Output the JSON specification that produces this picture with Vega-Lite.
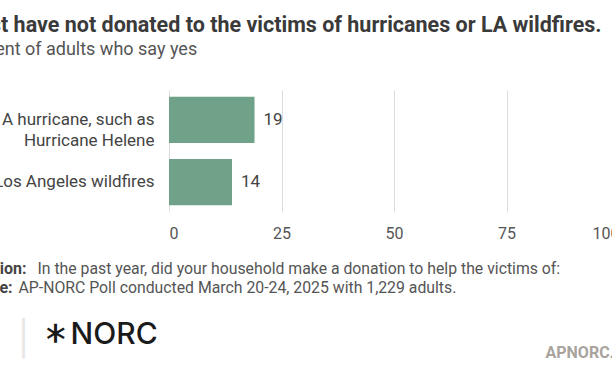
{
  "$schema": "https://vega.github.io/schema/vega-lite/v6.json",
  "autosize": "none",
  "width": 450,
  "height": 122,
  "padding": {"left": 169, "top": 90, "right": 0, "bottom": 162},
  "background": "white",
  "title": {
    "text": "Most have not donated to the victims of hurricanes or LA wildfires.",
    "subtitle": "Percent of adults who say yes",
    "anchor": "start",
    "frame": "group",
    "dx": -210,
    "offset": 31,
    "font": "Roboto",
    "fontSize": 21.5,
    "fontWeight": "bold",
    "color": "#3a3a3a",
    "subtitleFont": "Roboto",
    "subtitleFontSize": 18,
    "subtitleColor": "#555555",
    "subtitlePadding": 5
  },
  "data": {
    "values": [
      {"event": "A hurricane, such as Hurricane Helene", "value": 19},
      {"event": "Los Angeles wildfires", "value": 14}
    ]
  },
  "config": {"view": {"stroke": null}, "font": "Roboto"},
  "resolve": {"axis": {"x": "independent"}},
  "layer": [
    {
      "mark": {"type": "bar", "color": "#6fa288"},
      "encoding": {
        "y": {
          "field": "event", "type": "nominal", "sort": null,
          "scale": {"paddingInner": 0.26, "paddingOuter": 0.11},
          "axis": {
            "title": null, "domain": false, "ticks": false,
            "labelPadding": 15, "labelFontSize": 17, "labelColor": "#444444",
            "labelFont": "Roboto", "labelLineHeight": 21, "labelLimit": 400,
            "labelExpr": "datum.label == 'A hurricane, such as Hurricane Helene' ? ['A hurricane, such as', 'Hurricane Helene'] : datum.label"
          }
        },
        "x": {
          "field": "value", "type": "quantitative",
          "scale": {"domain": [0, 100]},
          "axis": {
            "orient": "bottom", "values": [0, 25, 50, 75, 100], "title": null,
            "domain": false, "ticks": false, "grid": true, "gridColor": "#dddddd",
            "labelFontSize": 16, "labelColor": "#555555", "labelPadding": 13, "labelFont": "Roboto"
          }
        }
      }
    },
    {
      "mark": {"type": "text", "align": "left", "dx": 9, "fontSize": 17, "color": "#444444", "font": "Roboto"},
      "encoding": {
        "y": {"field": "event", "type": "nominal", "sort": null},
        "x": {"field": "value", "type": "quantitative", "axis": null},
        "text": {"field": "value", "type": "quantitative"}
      }
    },
    {
      "mark": {"type": "point", "opacity": 0},
      "encoding": {
        "x": {"field": "value", "type": "quantitative", "axis": {
          "orient": "bottom", "domain": false, "ticks": false, "labels": false, "grid": false,
          "title": "Question:", "titleX": -212, "titleY": 61, "titleAlign": "left", "titleAnchor": null,
          "titleBaseline": "alphabetic", "titleFont": "Roboto", "titleFontSize": 16, "titleFontWeight": "bold", "titleColor": "#444444"}}
      }
    },
    {
      "mark": {"type": "point", "opacity": 0},
      "encoding": {
        "x": {"field": "value", "type": "quantitative", "axis": {
          "orient": "bottom", "domain": false, "ticks": false, "labels": false, "grid": false,
          "title": "In the past year, did your household make a donation to help the victims of:", "titleX": -132, "titleY": 61, "titleAlign": "left", "titleAnchor": null,
          "titleBaseline": "alphabetic", "titleFont": "Roboto", "titleFontSize": 15.8, "titleFontWeight": "normal", "titleColor": "#555555"}}
      }
    },
    {
      "mark": {"type": "point", "opacity": 0},
      "encoding": {
        "x": {"field": "value", "type": "quantitative", "axis": {
          "orient": "bottom", "domain": false, "ticks": false, "labels": false, "grid": false,
          "title": "Source:", "titleX": -212, "titleY": 80, "titleAlign": "left", "titleAnchor": null,
          "titleBaseline": "alphabetic", "titleFont": "Roboto", "titleFontSize": 16, "titleFontWeight": "bold", "titleColor": "#444444"}}
      }
    },
    {
      "mark": {"type": "point", "opacity": 0},
      "encoding": {
        "x": {"field": "value", "type": "quantitative", "axis": {
          "orient": "bottom", "domain": false, "ticks": false, "labels": false, "grid": false,
          "title": "AP-NORC Poll conducted March 20-24, 2025 with 1,229 adults.", "titleX": -151, "titleY": 80, "titleAlign": "left", "titleAnchor": null,
          "titleBaseline": "alphabetic", "titleFont": "Roboto", "titleFontSize": 15.8, "titleFontWeight": "normal", "titleColor": "#555555"}}
      }
    },
    {
      "mark": {"type": "point", "opacity": 0},
      "encoding": {
        "x": {"field": "value", "type": "quantitative", "axis": {
          "orient": "bottom", "domain": false, "ticks": false, "labels": false, "grid": false,
          "title": "│", "titleX": -146, "titleY": 127, "titleAlign": "center", "titleAnchor": null,
          "titleBaseline": "middle", "titleFont": "DejaVu Sans", "titleFontSize": 34, "titleFontWeight": "normal", "titleColor": "#e6e6e6"}}
      }
    },
    {
      "mark": {"type": "point", "opacity": 0},
      "encoding": {
        "x": {"field": "value", "type": "quantitative", "axis": {
          "orient": "bottom", "domain": false, "ticks": false, "labels": false, "grid": false,
          "title": "⚹", "titleX": -113, "titleY": 120, "titleAlign": "center", "titleAnchor": null, "titleAngle": 90,
          "titleBaseline": "middle", "titleFont": "DejaVu Sans", "titleFontSize": 34, "titleFontWeight": "normal", "titleColor": "#1a1a1a"}}
      }
    },
    {
      "mark": {"type": "point", "opacity": 0},
      "encoding": {
        "x": {"field": "value", "type": "quantitative", "axis": {
          "orient": "bottom", "domain": false, "ticks": false, "labels": false, "grid": false,
          "title": "NORC", "titleX": -99, "titleY": 131, "titleAlign": "left", "titleAnchor": null,
          "titleBaseline": "alphabetic", "titleFont": "Inter", "titleFontSize": 30, "titleFontWeight": 500, "titleColor": "#1a1a1a"}}
      }
    },
    {
      "mark": {"type": "point", "opacity": 0},
      "encoding": {
        "x": {"field": "value", "type": "quantitative", "axis": {
          "orient": "bottom", "domain": false, "ticks": false, "labels": false, "grid": false,
          "title": "APNORC.org", "titleX": 376, "titleY": 145, "titleAlign": "left", "titleAnchor": null,
          "titleBaseline": "alphabetic", "titleFont": "Roboto", "titleFontSize": 16, "titleFontWeight": "bold", "titleColor": "#a8a39d"}}
      }
    }
  ]
}
